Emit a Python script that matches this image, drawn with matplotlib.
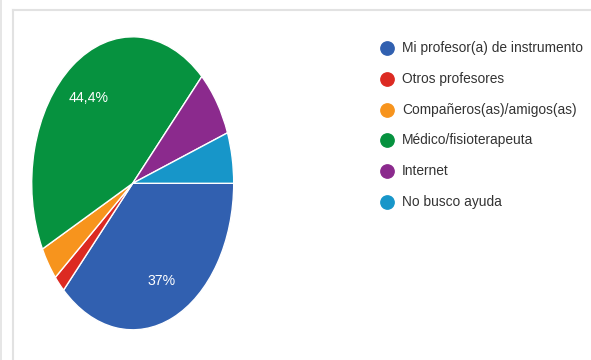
import matplotlib
matplotlib.use("Agg")
import matplotlib.pyplot as plt
from matplotlib.lines import Line2D

categories = [
    "Mi profesor(a) de instrumento",
    "Otros profesores",
    "Compañeros(as)/amigos(as)",
    "Médico/fisioterapeuta",
    "Internet",
    "No busco ayuda",
]
shares = [37.0, 1.9, 3.7, 44.4, 7.4, 5.6]
colors = ["#3160b0", "#dc2a22", "#f7941d", "#06923f", "#8b2a8d", "#1796c9"]

plt.rcParams["font.family"] = ["Liberation Sans", "DejaVu Sans"]

W, H = 591, 360
fig = plt.figure(figsize=(W / 100, H / 100), dpi=100)
fig.patch.set_facecolor("white")
renderer = fig.canvas.get_renderer()


def fit_size(txt, width_px, size):
    """Scale a text's font size so that it spans width_px pixels."""
    t = fig.text(0, 0, txt, fontsize=size)
    w = t.get_window_extent(renderer).width
    t.remove()
    return size * width_px / w


# Elliptical pie: axes box spans 2*rx by 2*ry pixels around the centre
cx, cy = 132.7, 183.3
rx, ry = 101.0, 146.5
ax = fig.add_axes([(cx - rx) / W, (H - cy - ry) / H, 2 * rx / W, 2 * ry / H])


def pct_label(p):
    if p < 10:
        return ""
    if abs(p - round(p)) < 0.05:
        return f"{round(p):d}%"
    return f"{p:.1f}%".replace(".", ",")


pct_size = fit_size("44,4%", 40, 12)
wedges, _, autotexts = ax.pie(
    shares,
    colors=colors,
    startangle=0,
    counterclock=False,
    autopct=pct_label,
    pctdistance=0.73,
    wedgeprops=dict(edgecolor="white", linewidth=1.0),
    textprops=dict(color="white", fontsize=pct_size),
)
ax.set_aspect("auto")
ax.set_xlim(-1, 1)
ax.set_ylim(-1, 1)
ax.axis("off")

# Legend rows: coloured dot + label
leg_size = fit_size(categories[0], 180, 11)
x_dot, x_txt = 387, 402
y0, dy = 48.3, 30.7
for i, (name, col) in enumerate(zip(categories, colors)):
    y = y0 + i * dy
    fig.add_artist(Line2D([x_dot / W], [1 - y / H], transform=fig.transFigure,
                          marker="o", markersize=9.6, color=col, linestyle="none"))
    fig.text(x_txt / W, 1 - y / H, name, fontsize=leg_size, color="#333333",
             ha="left", va="center")

# Card outline
edge = "#e2e2e2"
fig.add_artist(Line2D([1.5 / W, 1.5 / W], [0, 1], transform=fig.transFigure, color=edge, lw=1.2))
fig.add_artist(Line2D([12.5 / W, 12.5 / W], [0, 1 - 10 / H], transform=fig.transFigure, color=edge, lw=1.5))
fig.add_artist(Line2D([12.5 / W, 1], [1 - 10 / H, 1 - 10 / H], transform=fig.transFigure, color=edge, lw=1.5))

fig.savefig("out.png", dpi=100, facecolor="white")
